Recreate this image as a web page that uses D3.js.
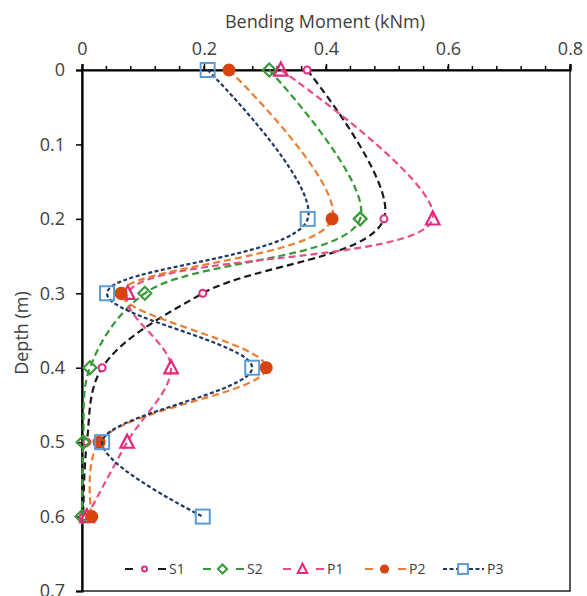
<meta charset="utf-8">
<script src="https://d3js.org/d3.v7.min.js"></script>
<style>
  body { margin: 0; background: #fff; }
  text { font-family: "Open Sans", sans-serif; fill: #404040; }
  .axis path, .axis line { stroke: #000; }
  .series path { fill: none; stroke-width: 2.2px; }
</style>
<body>
<script>
  var depth = [0, 0.2, 0.3, 0.4, 0.5, 0.6];
  var S1 = [0.369, 0.495, 0.198, 0.033, 0.008, 0.002];
  var S2 = [0.307, 0.456, 0.103, 0.013, 0.002, 0.0];
  var P1 = [0.326, 0.575, 0.075, 0.146, 0.074, 0.008];
  var P2 = [0.241, 0.410, 0.064, 0.302, 0.028, 0.016];
  var P3 = [0.206, 0.370, 0.041, 0.279, 0.033, 0.198];
  var xTicks = [0, 0.2, 0.4, 0.6, 0.8];
  var yTicks = [0, 0.1, 0.2, 0.3, 0.4, 0.5, 0.6, 0.7];
  var names = ['S1', 'S2', 'P1', 'P2', 'P3'];

  var series = [
    {name: 'S1', values: S1, line: '#1a1a1a', dash: '7,4', mark: 'circle', color: '#e6297c', fill: '#fff', size: 3.5},
    {name: 'S2', values: S2, line: '#339933', dash: '7,4', mark: 'diamond', color: '#3a9a3a', fill: 'none', size: 6.5},
    {name: 'P1', values: P1, line: '#ea4c89', dash: '7,4', mark: 'triangle', color: '#e6267a', fill: 'none', size: 7.5},
    {name: 'P2', values: P2, line: '#ed7d31', dash: '7,4', mark: 'dot', color: '#d8430f', fill: '#d8430f', size: 6.5},
    {name: 'P3', values: P3, line: '#1f3864', dash: '4,2.5', mark: 'square', color: '#5b9bd5', fill: 'none', size: 7}
  ];

  var W = 587, H = 596;
  var x = d3.scaleLinear().domain([0, 0.8]).range([82, 570]);
  var y = d3.scaleLinear().domain([0, 0.7]).range([70, 591]);

  var svg = d3.select('body').append('svg')
    .attr('width', W)
    .attr('height', H);

  // plot frame
  svg.append('rect')
    .attr('x', x(0)).attr('y', y(0))
    .attr('width', x(0.8) - x(0)).attr('height', y(0.7) - y(0))
    .attr('fill', 'none').attr('stroke', '#222').attr('stroke-width', 1.5);

  // minor ticks on top axis
  svg.append('g').selectAll('line.minor')
    .data(d3.range(0, 41, 2).map(function(i){ return i / 50; }))
    .enter().append('line')
    .attr('x1', function(d){ return x(d); }).attr('x2', function(d){ return x(d); })
    .attr('y1', y(0) - 4).attr('y2', y(0))
    .attr('stroke', '#000').attr('stroke-width', 1.5);

  var xAxis = svg.append('g').attr('class', 'axis')
    .attr('transform', 'translate(0,' + y(0) + ')')
    .call(d3.axisTop(x).tickValues(xTicks).tickSize(6).tickPadding(9).tickFormat(d3.format('')));
  xAxis.select('.domain').attr('stroke-width', 2.2);
  xAxis.selectAll('.tick line').attr('stroke-width', 1.5);
  xAxis.selectAll('text').style('font-size', '18px').attr('fill', '#404040');

  var yAxis = svg.append('g').attr('class', 'axis')
    .attr('transform', 'translate(' + x(0) + ',0)')
    .call(d3.axisLeft(y).tickValues(yTicks).tickSize(6).tickPadding(11).tickFormat(d3.format('')));
  yAxis.select('.domain').attr('stroke-width', 2.2);
  yAxis.selectAll('.tick line').attr('stroke-width', 1.5);
  yAxis.selectAll('text').style('font-size', '18px').attr('fill', '#404040');

  svg.append('text')
    .attr('x', (x(0) + x(0.8)) / 2 - 1).attr('y', 28)
    .attr('text-anchor', 'middle')
    .style('font-size', '18px')
    .text('Bending Moment (kNm)');

  svg.append('text')
    .attr('transform', 'translate(28,' + 333 + ') rotate(-90)')
    .attr('text-anchor', 'middle')
    .style('font-size', '18px')
    .text('Depth (m)');

  var line = d3.line()
    .x(function(d){ return x(d[0]); })
    .y(function(d){ return y(d[1]); })
    .curve(d3.curveCatmullRom.alpha(0.5));

  function marker(g, s) {
    var r = s.size, sel;
    if (s.mark === 'circle' || s.mark === 'dot') {
      sel = g.append('circle').attr('r', r);
    } else if (s.mark === 'square') {
      sel = g.append('rect').attr('x', -r).attr('y', -r).attr('width', 2 * r).attr('height', 2 * r);
    } else if (s.mark === 'diamond') {
      sel = g.append('path').attr('d', 'M0,' + (-r) + 'L' + r + ',0L0,' + r + 'L' + (-r) + ',0Z');
    } else {
      sel = g.append('path').attr('d', 'M0,' + (-r) + 'L' + (r * 0.9) + ',' + (r * 0.75) + 'L' + (-r * 0.9) + ',' + (r * 0.75) + 'Z');
    }
    sel.attr('fill', s.fill).attr('stroke', s.color).attr('stroke-width', s.mark === 'dot' ? 0 : 2);
  }

  series.forEach(function(s) {
    s.points = s.values.map(function(v, i){ return [v, depth[i]]; });
  });

  var gs = svg.append('g').selectAll('g.series').data(series).enter()
    .append('g').attr('class', 'series');

  gs.append('path')
    .attr('d', function(d){ return line(d.points); })
    .attr('stroke', function(d){ return d.line; })
    .attr('stroke-dasharray', function(d){ return d.dash; });

  gs.each(function(s) {
    var g = d3.select(this);
    s.points.forEach(function(p) {
      var m = g.append('g').attr('transform', 'translate(' + x(p[0]) + ',' + y(p[1]) + ')');
      marker(m, s);
    });
  });

  // legend
  var legendX = [125, 203, 283, 365, 443];
  var ly = 569;
  var lg = svg.append('g').selectAll('g.leg').data(series).enter()
    .append('g').attr('transform', function(d, i){ return 'translate(' + legendX[i] + ',' + ly + ')'; });

  lg.append('line')
    .attr('x1', 0).attr('x2', 41).attr('y1', 0).attr('y2', 0)
    .attr('stroke', function(d){ return d.line; })
    .attr('stroke-width', 2.2)
    .attr('stroke-dasharray', function(d){ return d.name === 'P3' ? '4,2.5' : '8,25'; });

  lg.each(function(s) {
    var m = d3.select(this).append('g').attr('transform', 'translate(' + (s.name === 'P3' ? 20 : 19.5) + ',0)');
    marker(m, {mark: s.mark, color: s.color, fill: s.mark === 'dot' ? s.fill : '#fff', size: s.size * 0.7});
  });

  lg.append('text')
    .attr('x', 44).attr('y', 5)
    .style('font-size', '14px')
    .attr('fill', '#595959')
    .text(function(d){ return d.name; });
</script>
</body>
</html>
